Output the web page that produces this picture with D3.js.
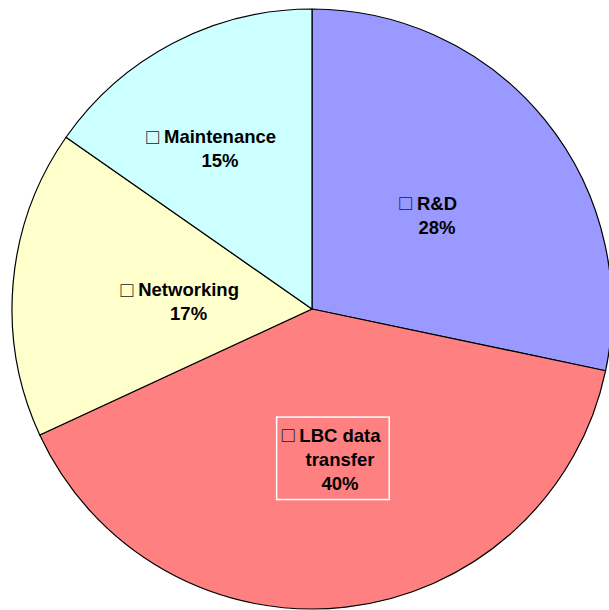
<!DOCTYPE html>
<html>
<head>
<meta charset="utf-8">
<script src="https://cdn.jsdelivr.net/npm/d3@7"></script>
<style>
  html, body { margin: 0; padding: 0; background: #ffffff; }
  svg { display: block; }
</style>
</head>
<body>
<svg id="chart" width="609" height="610"></svg>
<script>
// ---- data ----
const categories = ["R&D", "LBC data transfer", "Networking", "Maintenance"];
const labelLines = [["R&D"], ["LBC data", "transfer"], ["Networking"], ["Maintenance"]];
const values = [28.3, 39.8, 16.6, 15.3];
const percentLabels = ["28%", "40%", "17%", "15%"];
const colors = ["#9999FF", "#FF8080", "#FFFFCC", "#CCFFFF"];

// ---- layout ----
const W = 609, H = 610;
const cx = 312, cy = 309, R = 300;
const labelR = 150;
const labelOffsets = [[8.5, 1], [11, 1], [26, 5.7], [-22.6, -27.5]];
const framed = [false, true, false, false];
const lineH = 24, capH = 13;

const svg = d3.select("#chart");
const g = svg.append("g").attr("transform", `translate(${cx},${cy})`);

const pie = d3.pie().sort(null).value(d => d)
  .startAngle(0).endAngle(2 * Math.PI);
const arcs = pie(values);
const arc = d3.arc().innerRadius(0).outerRadius(R);
const labelArc = d3.arc().innerRadius(labelR).outerRadius(labelR);

g.selectAll("path.slice").data(arcs).enter().append("path")
  .attr("class", "slice")
  .attr("d", arc)
  .attr("fill", (d, i) => colors[i])
  .attr("stroke", "#000")
  .attr("stroke-width", 1.2)
  .attr("stroke-linejoin", "round");

const font = "'Liberation Sans', Arial, sans-serif";

arcs.forEach((d, i) => {
  const c = labelArc.centroid(d);
  const lx = c[0] + labelOffsets[i][0];
  const midY = c[1] + labelOffsets[i][1];
  const lines = labelLines[i].concat([percentLabels[i]]);
  const n = lines.length;
  const b1 = midY - ((n - 1) * lineH - capH) / 2;
  const lg = g.append("g").attr("class", "label");
  let firstW = 0;
  lines.forEach((t, k) => {
    const te = lg.append("text")
      .attr("x", lx).attr("y", b1 + k * lineH)
      .attr("text-anchor", "middle")
      .attr("font-family", font)
      .attr("font-weight", "bold")
      .attr("font-size", 18.5)
      .attr("fill", "#000")
      .text(t);
    if (k === 0) firstW = te.node().getComputedTextLength();
  });
  lg.append("text")
    .attr("x", lx - firstW / 2 - 5).attr("y", b1 + 0.5)
    .attr("text-anchor", "end")
    .attr("font-family", font)
    .attr("font-size", 21)
    .attr("fill", "#222")
    .text("\u25A1");
  if (framed[i]) {
    const bb = lg.node().getBBox();
    lg.insert("rect", ":first-child")
      .attr("x", bb.x - 5).attr("y", bb.y - 6)
      .attr("width", bb.width + 13).attr("height", bb.height + 12)
      .attr("fill", "none")
      .attr("stroke", "#ffffff")
      .attr("stroke-width", 1.5);
  }
});
</script>
</body>
</html>
